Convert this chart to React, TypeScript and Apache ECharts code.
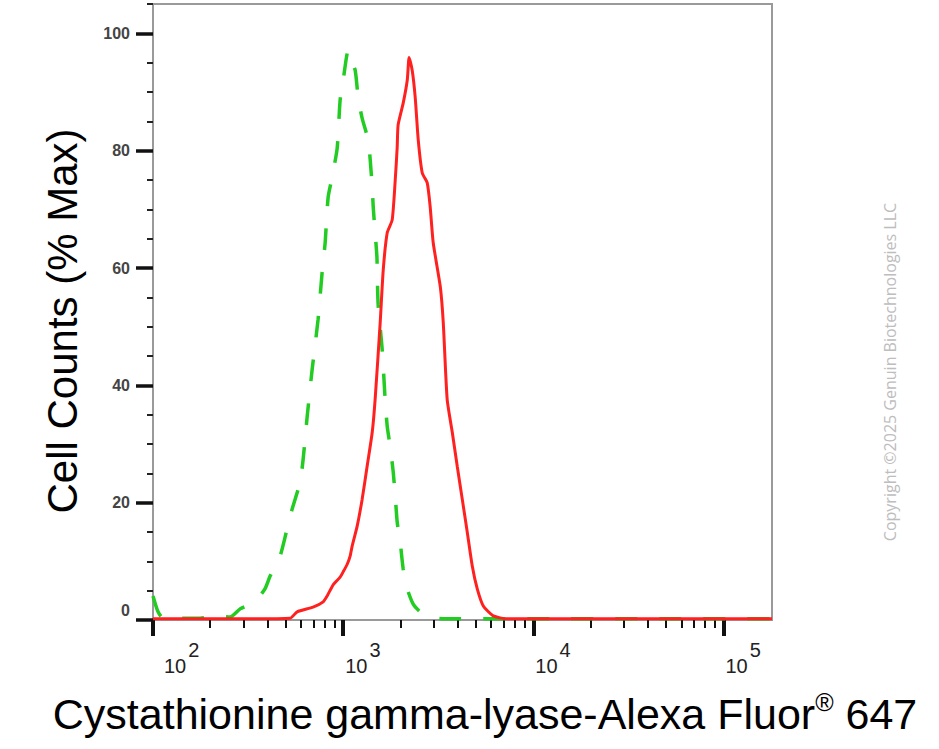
import React, { useEffect, useRef } from "react";
import * as echarts from "echarts";

// Isotype control (green, dashed)
const greenX = [100, 106, 113, 177, 212, 254, 287, 324, 353, 388, 413, 466, 507, 539, 594, 616, 647, 687, 738, 775, 804, 834, 875, 930, 964, 1000, 1062, 1088, 1157, 1199, 1259, 1355, 1388, 1422, 1439, 1473, 1505, 1515, 1528, 1604, 1663, 1705, 1767, 1834, 1879, 1924, 1995, 2069, 2173, 2336, 2541, 2869, 3443, 10000, 50000, 180000];
const greenY = [4.1, 1.5, 0.3, 0.3, 0.7, 0.5, 1.9, 2.7, 3.6, 5.3, 7.5, 10.9, 15.5, 18.9, 23.5, 27.4, 34.7, 42.7, 51.2, 59.2, 64.3, 72.1, 75.5, 80.4, 88.6, 92.0, 97.1, 95.9, 93.7, 89.1, 85.5, 81.8, 78.4, 73.8, 70.4, 66.0, 61.9, 57.5, 53.7, 46.1, 37.6, 33.0, 29.6, 25.2, 21.1, 16.7, 13.3, 8.7, 5.3, 2.7, 1.4, 0.5, 0.2, 0.2, 0.2, 0.2];

// Cystathionine gamma-lyase (red, solid)
const redX = [100, 300, 526, 573, 695, 785, 824, 886, 964, 1000, 1050, 1088, 1115, 1185, 1259, 1337, 1422, 1473, 1566, 1625, 1705, 1811, 1879, 1924, 1946, 2069, 2173, 2223, 2307, 2393, 2483, 2606, 2768, 2869, 2976, 3243, 3361, 3524, 3748, 3981, 4230, 4493, 4775, 5073, 5457, 6156, 7296, 20000, 180000];
const redY = [0.2, 0.2, 0.3, 1.4, 2.2, 3.1, 4.1, 6.0, 7.3, 8.2, 9.5, 10.9, 12.6, 16.0, 20.6, 26.2, 32.0, 37.6, 50.7, 59.7, 66.0, 68.2, 75.0, 80.6, 84.4, 88.1, 92.0, 95.9, 93.7, 89.1, 81.8, 76.2, 74.5, 70.4, 64.3, 56.8, 50.7, 37.6, 32.0, 26.2, 20.6, 15.0, 9.2, 5.3, 2.4, 0.7, 0.2, 0.2, 0.2];

const xMajorTicks = [100, 1000, 10000, 100000];
const xMinorTicks = [200, 300, 400, 500, 600, 700, 800, 900, 2000, 3000, 4000, 5000, 6000, 7000, 8000, 9000, 20000, 30000, 40000, 50000, 60000, 70000, 80000, 90000];
const yMajorTicks = [0, 20, 40, 60, 80, 100];
const yMinorTicks = [5, 10, 15, 25, 30, 35, 45, 50, 55, 65, 70, 75, 85, 90, 95, 105];

const xTitle = "Cystathionine gamma-lyase-Alexa Fluor";
const xTitleSup = "®";
const xTitleEnd = " 647";
const yTitle = "Cell Counts (% Max)";
const copyright = "Copyright ©2025 Genuin Biotechnologies LLC";

const zip = (xs: number[], ys: number[]) => xs.map((x, i) => [x, ys[i]]);

export default function App() {
  const ref = useRef<HTMLDivElement>(null);
  useEffect(() => {
    if (!ref.current) return;
    const chart = echarts.init(ref.current, undefined, { renderer: "svg" });
    const font = "Arial, 'Liberation Sans', sans-serif";
    chart.setOption({
      animation: false,
      backgroundColor: "#ffffff",
      grid: {
        left: 153,
        right: 167,
        top: 4,
        bottom: 129,
        show: true,
        borderColor: "#9a9a9a",
        borderWidth: 2,
        containLabel: false,
        outerBoundsMode: "none",
      },
      xAxis: [
        {
          type: "log",
          logBase: 10,
          min: 100,
          max: 180000,
          position: "bottom",
          axisLine: { onZero: false, lineStyle: { color: "#9a9a9a", width: 2 } },
          splitLine: { show: false },
          axisTick: { customValues: xMajorTicks, length: 16, lineStyle: { color: "#111", width: 4 } },
          axisLabel: {
            customValues: xMajorTicks,
            margin: 20,
            align: "left",
            formatter: (v: number) => {
              const n = Math.round(Math.log10(v));
              return n === 2 ? `{b1|10}{s|${n}}` : `{b|10}{s|${n}}`;
            },
            rich: {
              b: { fontFamily: font, fontSize: 20, color: "#222", lineHeight: 36, verticalAlign: "bottom", padding: [0, 2, 0, 2] },
              b1: { fontFamily: font, fontSize: 20, color: "#222", lineHeight: 36, verticalAlign: "bottom", padding: [0, 2, 0, 11] },
              s: { fontFamily: font, fontSize: 20, color: "#222", verticalAlign: "top" },
            },
          },
        },
        {
          type: "log",
          logBase: 10,
          min: 100,
          max: 180000,
          position: "bottom",
          axisLine: { show: false, onZero: false },
          splitLine: { show: false },
          axisTick: { customValues: xMinorTicks, length: 8, lineStyle: { color: "#111", width: 2 } },
          axisLabel: { show: false },
        },
      ],
      yAxis: [
        {
          type: "value",
          min: 0,
          max: 105,
          position: "left",
          axisLine: { show: true, onZero: false, lineStyle: { color: "#9a9a9a", width: 2 } },
          splitLine: { show: false },
          axisTick: { customValues: yMajorTicks, length: 17, lineStyle: { color: "#111", width: 3.5 } },
          axisLabel: {
            customValues: yMajorTicks,
            margin: 23,
            fontFamily: font,
            fontSize: 16,
            fontWeight: "bold",
            color: "#444",
            formatter: (v: number) => (v === 0 ? "{z|0}" : String(v)),
            rich: {
              z: { fontFamily: font, fontSize: 16, fontWeight: "bold", color: "#444", padding: [0, 0, 20, 0] },
            },
          },
        },
        {
          type: "value",
          min: 0,
          max: 105,
          position: "left",
          axisLine: { show: false, onZero: false },
          splitLine: { show: false },
          axisTick: { customValues: yMinorTicks, length: 6, lineStyle: { color: "#222", width: 2 } },
          axisLabel: { show: false },
        },
      ],
      series: [
        {
          type: "line",
          name: "Isotype",
          xAxisIndex: 0,
          yAxisIndex: 0,
          data: zip(greenX, greenY),
          showSymbol: false,
          smooth: 0.2,
          lineStyle: { color: "#22cc22", width: 3.5, type: [22, 22] },
          z: 2,
        },
        {
          type: "line",
          name: "CTH",
          xAxisIndex: 0,
          yAxisIndex: 0,
          data: zip(redX, redY),
          showSymbol: false,
          smooth: 0.2,
          lineStyle: { color: "#ff2020", width: 3 },
          z: 3,
        },
      ],
      graphic: [
        {
          type: "text",
          x: 485,
          y: 712,
          style: {
            text: `{a|${xTitle}}{r|${xTitleSup}}{a|${xTitleEnd}}`,
            align: "center",
            verticalAlign: "middle",
            rich: {
              a: { fontFamily: font, fontSize: 43, fill: "#000", lineHeight: 46, verticalAlign: "bottom" },
              r: { fontFamily: font, fontSize: 25, fill: "#000", verticalAlign: "top" },
            },
          },
        },
        {
          type: "text",
          x: 62,
          y: 321,
          rotation: Math.PI / 2,
          style: {
            text: yTitle,
            fontFamily: font,
            fontSize: 42,
            fill: "#000",
            align: "center",
            verticalAlign: "middle",
          },
        },
        {
          type: "text",
          x: 890,
          y: 372,
          rotation: Math.PI / 2,
          style: {
            text: copyright,
            fontFamily: "'Open Sans', 'Noto Sans', sans-serif",
            fontSize: 16,
            fill: "#bdbdbd",
            align: "center",
            verticalAlign: "middle",
          },
        },
      ],
    });
    return () => chart.dispose();
  }, []);
  return (
    <div
      ref={ref}
      style={{ position: "fixed", left: 0, top: 0, width: 939, height: 749, background: "#fff" }}
    />
  );
}
